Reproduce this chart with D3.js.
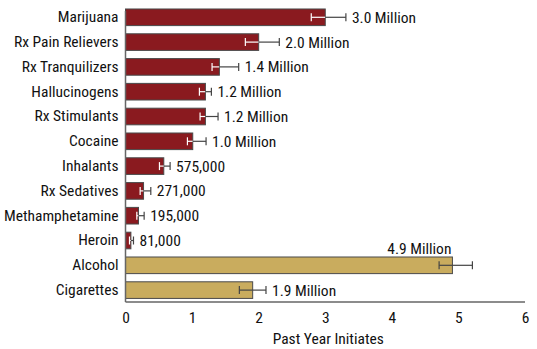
<!DOCTYPE html>
<html><head><meta charset="utf-8">
<script src="https://cdn.jsdelivr.net/npm/d3@7"></script>
<style>body{margin:0;background:#fff}text{font-family:"Liberation Sans Narrow","Arial Narrow","Roboto Condensed",sans-serif;fill:#111}</style>
</head><body><svg id="c" width="537" height="349"></svg>
<script>
const categories = ["Marijuana","Rx Pain Relievers","Rx Tranquilizers","Hallucinogens","Rx Stimulants","Cocaine","Inhalants","Rx Sedatives","Methamphetamine","Heroin","Alcohol","Cigarettes"];
const values = [3.0, 2.0, 1.41, 1.2, 1.2, 1.01, 0.575, 0.271, 0.195, 0.081, 4.91, 1.91];
const errLow = [2.79, 1.80, 1.30, 1.11, 1.12, 0.93, 0.51, 0.22, 0.17, 0.06, 4.71, 1.71];
const errHigh = [3.31, 2.31, 1.70, 1.29, 1.39, 1.21, 0.67, 0.38, 0.28, 0.12, 5.21, 2.11];
const valueLabels = ["3.0 Million","2.0 Million","1.4 Million","1.2 Million","1.2 Million","1.0 Million","575,000","271,000","195,000","81,000","4.9 Million","1.9 Million"];
const groups = ["drug","drug","drug","drug","drug","drug","drug","drug","drug","drug","legal","legal"];
const xTicks = [0,1,2,3,4,5,6];
const xTitle = "Past Year Initiates";

const svg = d3.select("#c");
const x = d3.scaleLinear().domain([0,6]).range([125.5,525]);
const y = d3.scaleBand().domain(categories).range([0.8,306.6]).paddingInner(0.33).paddingOuter(0.33);
const color = d3.scaleOrdinal().domain(["drug","legal"]).range(["#8a1a1f","#c9ac5e"]);
const axisY = 302;
const FS = 15.5;

const rows = categories.map((c,i)=>({c, v:values[i], lo:errLow[i], hi:errHigh[i], lab:valueLabels[i], g:groups[i]}));

svg.selectAll("rect.bar").data(rows).join("rect").attr("class","bar")
  .attr("x", x(0)).attr("y", d=>y(d.c)).attr("width", d=>x(d.v)-x(0)).attr("height", y.bandwidth())
  .attr("fill", d=>color(d.g)).attr("stroke","#4a4a4a").attr("stroke-width",1);

const eb = svg.selectAll("g.eb").data(rows).join("g").attr("class","eb");
const cy = d=>y(d.c)+y.bandwidth()/2;
eb.append("line").attr("x1",d=>x(d.lo)).attr("x2",d=>x(d.v)).attr("y1",cy).attr("y2",cy).attr("stroke",d=>d.g==="drug"?"#fff":"#444").attr("stroke-width",1.2);
eb.append("line").attr("x1",d=>x(d.lo)).attr("x2",d=>x(d.lo)).attr("y1",d=>cy(d)-4).attr("y2",d=>cy(d)+4).attr("stroke",d=>d.g==="drug"?"#fff":"#444").attr("stroke-width",1.2);
eb.append("line").attr("x1",d=>x(d.v)).attr("x2",d=>x(d.hi)).attr("y1",cy).attr("y2",cy).attr("stroke","#444").attr("stroke-width",1.2);
eb.append("line").attr("x1",d=>x(d.hi)).attr("x2",d=>x(d.hi)).attr("y1",d=>cy(d)-4).attr("y2",d=>cy(d)+4).attr("stroke","#444").attr("stroke-width",1.2);

svg.selectAll("text.vl").data(rows).join("text").attr("class","vl")
  .attr("x", d=> d.c==="Alcohol" ? x(d.v)-1 : x(d.hi)+6)
  .attr("y", d=> d.c==="Alcohol" ? y(d.c)-3 : cy(d))
  .attr("dy", d=> d.c==="Alcohol" ? 0 : "0.36em")
  .attr("text-anchor", d=> d.c==="Alcohol" ? "end" : "start")
  .attr("font-size", FS).text(d=>d.lab);

const ya = svg.append("g").attr("transform",`translate(${x(0)},0)`).call(d3.axisLeft(y).tickSize(0).tickPadding(7));
ya.select(".domain").remove();
ya.selectAll("text").attr("font-size",FS).style("font-family",null).attr("fill","#111");
svg.append("line").attr("x1",x(0)).attr("x2",x(0)).attr("y1",11).attr("y2",axisY).attr("stroke","#666").attr("stroke-width",1.5);

const xa = svg.append("g").attr("transform",`translate(0,${axisY})`).call(d3.axisBottom(x).tickValues(xTicks).tickSize(0).tickPadding(10).tickFormat(d3.format("d")));
xa.select(".domain").remove();
xa.selectAll("text").attr("font-size",FS).style("font-family",null).attr("fill","#111");
svg.append("line").attr("x1",x(0)).attr("x2",x(6)).attr("y1",axisY).attr("y2",axisY).attr("stroke","#666").attr("stroke-width",1.5);

svg.append("text").attr("x",(x(0)+x(6))/2+3).attr("y",344).attr("text-anchor","middle").attr("font-size",FS).text(xTitle);
</script></body></html>
